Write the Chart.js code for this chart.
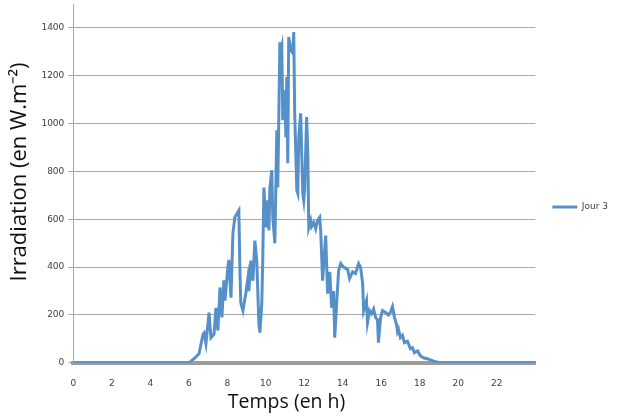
<!DOCTYPE html>
<html>
<head>
<meta charset="utf-8">
<script src="https://cdn.jsdelivr.net/npm/chart.js@4/dist/chart.umd.min.js"></script>
<style>
  html, body { margin: 0; padding: 0; background: #fff; }
  #irradiationChart { display: block; }
</style>
</head>
<body>
<canvas id="irradiationChart" width="619" height="418"></canvas>
<script>
// values (hour of day / W.m-2)
const seriesName = 'Jour 3';
const hours = [
  0, 6.01, 6.27, 6.53, 6.74, 6.79, 6.89, 7.05, 7.15, 7.31, 7.41, 7.51, 7.62, 7.72, 7.82, 7.88,
  8.03, 8.08, 8.19, 8.29, 8.39, 8.55, 8.60, 8.65, 8.70, 8.81, 8.96, 9.07, 9.12, 9.22, 9.33,
  9.43, 9.53, 9.64, 9.69, 9.79, 9.84, 9.90, 10.00, 10.10, 10.16, 10.21, 10.31, 10.36, 10.47,
  10.57, 10.62, 10.67, 10.73, 10.78, 10.83, 10.88, 10.98, 11.04, 11.09, 11.14, 11.19, 11.30,
  11.40, 11.45, 11.50, 11.61, 11.66, 11.71, 11.81, 11.92, 11.97, 12.02, 12.12, 12.18, 12.23,
  12.33, 12.38, 12.49, 12.59, 12.69, 12.80, 12.85, 12.95, 13.01, 13.11, 13.21, 13.32, 13.42,
  13.52, 13.58, 13.68, 13.78, 13.89, 14.04, 14.25, 14.35, 14.51, 14.66, 14.82, 14.92, 15.03,
  15.08, 15.23, 15.28, 15.39, 15.49, 15.60, 15.70, 15.80, 15.85, 15.96, 16.06, 16.22, 16.37,
  16.48, 16.58, 16.68, 16.79, 16.84, 16.89, 16.99, 17.10, 17.20, 17.36, 17.51, 17.62, 17.72,
  17.88, 18.03, 18.19, 18.39, 18.55, 18.81, 19.07, 24
];
const irradiation = [
  0, 0, 17, 38, 120, 125, 80, 210, 105, 120, 230, 135, 315, 190, 345, 260,
  400, 430, 272, 540, 608, 630, 637, 400, 250, 218, 290, 356, 300, 427, 343,
  511, 427, 163, 126, 247, 427, 733, 566, 679, 553, 729, 805, 610, 499,
  972, 733, 1000, 1340, 1300, 1320, 1014, 1140, 943, 1195, 834, 1362, 1308,
  1295, 1383, 1043, 721, 708, 943, 1043, 708, 679, 733, 1027, 876, 566,
  595, 570, 587, 560, 595, 608, 553, 343, 420, 532, 289, 380, 230,
  300, 105, 250, 385, 415, 400, 390, 352, 380, 373, 415, 400, 331,
  218, 260, 168, 218, 205, 225, 189, 180, 84, 189, 218, 210, 200,
  212, 235, 190, 160, 130, 140, 105, 115, 84, 90, 59, 63, 42,
  50, 29, 21, 17, 12, 4, 0, 0
];
const xTicks = [0, 2, 4, 6, 8, 10, 12, 14, 16, 18, 20, 22];
const yTicks = [0, 200, 400, 600, 800, 1000, 1200, 1400];

const lineColor = '#5690c8';
const gridColor = '#a8a8a8';
const labelColor = '#404040';

const points = hours.map((h, i) => ({ x: h, y: irradiation[i] }));

const chart = new Chart('irradiationChart', {
  type: 'line',
  data: {
    datasets: [{
      label: seriesName,
      data: points,
      borderColor: lineColor,
      backgroundColor: lineColor,
      borderWidth: 3,
      pointRadius: 0,
      tension: 0,
      fill: false
    }]
  },
  options: {
    responsive: false,
    animation: false,
    events: [],
    layout: {
      padding: { left: 7, top: 0, bottom: 4, right: 1 }
    },
    plugins: {
      tooltip: { enabled: false },
      legend: {
        position: 'right',
        labels: {
          boxWidth: 25,
          boxHeight: 3,
          padding: 17,
          color: labelColor,
          font: { family: 'DejaVu Sans', size: 9 },
          // plain line sample, no outline round the box
          generateLabels: c => Chart.defaults.plugins.legend.labels.generateLabels(c)
            .map(item => ({ ...item, lineWidth: 0 }))
        }
      }
    },
    scales: {
      x: {
        type: 'linear',
        min: 0,
        max: 24,
        afterBuildTicks: scale => { scale.ticks = xTicks.map(v => ({ value: v })); },
        grid: { display: false, drawTicks: false },
        border: { display: true, color: '#9c9c9c', width: 4 },
        ticks: {
          padding: 15,
          maxRotation: 0,
          color: labelColor,
          font: { family: 'DejaVu Sans', size: 9 }
        },
        title: {
          display: true,
          text: 'Temps (en h)\u00a0\u00a0\u00a0\u00a0\u00a0\u00a0\u00a0',
          color: '#111',
          font: { family: 'Open Sans', size: 19.5 },
          padding: { top: -13, bottom: 0 }
        }
      },
      y: {
        min: 0,
        max: 1500,
        afterBuildTicks: scale => { scale.ticks = yTicks.map(v => ({ value: v })); },
        // top label is 1400, not at the edge: no extra room needed above it
        afterFit: scale => { scale.paddingTop = 4; },
        grid: { color: gridColor, lineWidth: 1, tickLength: 5 },
        border: { color: gridColor, width: 1 },
        ticks: {
          padding: 4,
          color: labelColor,
          font: { family: 'DejaVu Sans', size: 9 },
          callback: v => String(v)
        },
        title: {
          display: true,
          text: '\u00a0\u00a0\u00a0\u00a0Irradiation (en W.m\u207b\u00b2)',
          color: '#111',
          font: { family: 'Open Sans', size: 22 },
          padding: { top: 0, bottom: 4 }
        }
      }
    }
  }
});
</script>
</body>
</html>
